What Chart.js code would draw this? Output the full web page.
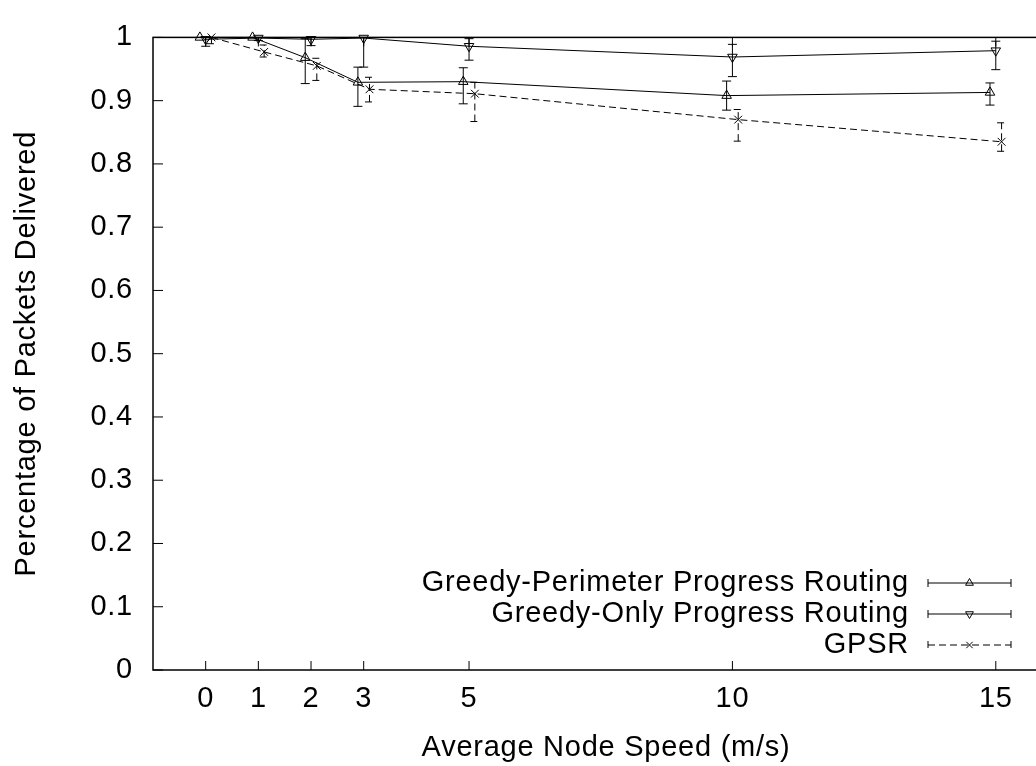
<!DOCTYPE html>
<html lang="en">
<head>
<meta charset="UTF-8">
<title>Packets Delivered vs Node Speed</title>
<script src="https://cdn.jsdelivr.net/npm/chart.js@4.4.1/dist/chart.umd.min.js"></script>
<style>
  html, body { margin: 0; padding: 0; background: #ffffff; overflow: hidden; }
  #chart { display: block; }
</style>
</head>
<body>
<canvas id="chart" width="1070" height="766"></canvas>
<script>
// x values (average node speed, m/s)
const speeds = [0, 1, 2, 3, 5, 10, 15];
const xTicks = [0, 1, 2, 3, 5, 10, 15];
const yTicks = [0, 0.1, 0.2, 0.3, 0.4, 0.5, 0.6, 0.7, 0.8, 0.9, 1];
const yTickLabels = ['0', '0.1', '0.2', '0.3', '0.4', '0.5', '0.6', '0.7', '0.8', '0.9', '1'];

const seriesNames = ['Greedy-Perimeter Progress Routing', 'Greedy-Only Progress Routing', 'GPSR'];

// Greedy-Perimeter Progress Routing
const perimMean = [1.0, 1.0, 0.968, 0.929, 0.930, 0.908, 0.913];
const perimLow  = [1.0, 1.0, 0.927, 0.891, 0.895, 0.885, 0.893];
const perimHigh = [1.0, 1.0, 0.998, 0.953, 0.952, 0.931, 0.928];

// Greedy-Only Progress Routing
const greedyMean = [0.997, 0.999, 0.997, 0.999, 0.986, 0.969, 0.979];
const greedyLow  = [0.986, 0.995, 0.987, 0.953, 0.964, 0.938, 0.949];
const greedyHigh = [1.0, 1.0, 1.0, 1.0, 0.998, 0.989, 0.994];

// GPSR
const gpsrMean = [1.0, 0.977, 0.955, 0.918, 0.911, 0.870, 0.835];
const gpsrLow  = [0.990, 0.969, 0.932, 0.898, 0.867, 0.836, 0.820];
const gpsrHigh = [1.0, 0.988, 0.967, 0.937, 0.929, 0.886, 0.865];

const FONT = "'Liberation Sans', Arial, Helvetica, sans-serif";
const FONT_SIZE = 29;

// gnuplot style: series shifted a little sideways so the bars don't overlap
function points(mean, shift) {
  return speeds.map((s, i) => ({ x: s + shift, y: mean[i] }));
}

const errorBars = {
  id: 'errorBars',
  afterDatasetsDraw(chart) {
    const ctx = chart.ctx;
    const xs = chart.scales.x, ys = chart.scales.y;
    chart.data.datasets.forEach(ds => {
      ctx.save();
      ctx.strokeStyle = '#000';
      ctx.lineWidth = 1;
      ctx.setLineDash(ds.borderDash || []);
      ds.data.forEach((p, i) => {
        const px = xs.getPixelForValue(p.x);
        const lo = ys.getPixelForValue(ds.errLow[i]);
        const hi = ys.getPixelForValue(ds.errHigh[i]);
        if (Math.abs(lo - hi) < 0.5) return;
        ctx.beginPath();
        ctx.moveTo(px, lo); ctx.lineTo(px, hi);
        ctx.moveTo(px - 4.5, lo); ctx.lineTo(px + 4.5, lo);
        ctx.moveTo(px - 4.5, hi); ctx.lineTo(px + 4.5, hi);
        ctx.stroke();
      });
      ctx.restore();
    });
  }
};

const frameAndKey = {
  id: 'frameAndKey',
  beforeDraw(chart) {
    chart.ctx.letterSpacing = '0.75px';
  },
  afterDraw(chart) {
    const ctx = chart.ctx;
    const { left, right, top, bottom } = chart.chartArea;
    const xs = chart.scales.x, ys = chart.scales.y;
    ctx.save();
    ctx.strokeStyle = '#000';
    ctx.lineWidth = 1.5;
    ctx.strokeRect(left, top, right - left, bottom - top);

    // ticks point inwards, mirrored on the opposite side
    ctx.lineWidth = 1;
    ctx.beginPath();
    xTicks.forEach(v => {
      const px = xs.getPixelForValue(v);
      ctx.moveTo(px, bottom); ctx.lineTo(px, bottom - 9);
      ctx.moveTo(px, top); ctx.lineTo(px, top + 9);
    });
    yTicks.forEach(v => {
      const py = ys.getPixelForValue(v);
      ctx.moveTo(left, py); ctx.lineTo(left + 10, py);
      ctx.moveTo(right, py); ctx.lineTo(right - 10, py);
    });
    ctx.stroke();

    // key, bottom right
    const rows = [583, 614, 645];
    chart.data.datasets.forEach((ds, i) => {
      const yy = rows[i];
      ctx.fillStyle = '#000';
      ctx.font = FONT_SIZE + 'px ' + FONT;
      ctx.textAlign = 'right';
      ctx.textBaseline = 'middle';
      ctx.fillText(ds.label, 909, yy);
      ctx.setLineDash(ds.borderDash || []);
      ctx.beginPath();
      ctx.moveTo(928, yy); ctx.lineTo(1011, yy);
      ctx.moveTo(928, yy - 4); ctx.lineTo(928, yy + 4);
      ctx.moveTo(1011, yy - 4); ctx.lineTo(1011, yy + 4);
      ctx.stroke();
      ctx.setLineDash([]);
      ctx.fillStyle = 'rgba(0,0,0,0)';
      Chart.helpers.drawPoint(ctx, {
        pointStyle: ds.pointStyle, radius: 4.5,
        rotation: ds.pointRotation || 0, borderWidth: 1
      }, 969.5, yy);
    });
    ctx.restore();
  }
};

function series(label, mean, low, high, shift, style, rotation, dash) {
  return {
    label: label,
    data: points(mean, shift),
    errLow: low,
    errHigh: high,
    borderColor: '#000',
    borderWidth: 1,
    borderDash: dash,
    pointStyle: style,
    pointRotation: rotation,
    pointRadius: 5.5,
    pointBorderColor: '#000',
    pointBackgroundColor: 'rgba(0,0,0,0)',
    pointBorderWidth: 1,
    tension: 0,
    clip: false
  };
}

new Chart(document.getElementById('chart').getContext('2d'), {
  type: 'line',
  data: {
    datasets: [
      series(seriesNames[0], perimMean, perimLow, perimHigh, -0.11, 'triangle', 0, []),
      series(seriesNames[1], greedyMean, greedyLow, greedyHigh, 0, 'triangle', 180, []),
      series(seriesNames[2], gpsrMean, gpsrLow, gpsrHigh, 0.11, 'crossRot', 0, [7, 4])
    ]
  },
  options: {
    responsive: false,
    animation: false,
    devicePixelRatio: 1,
    layout: { padding: { top: 26, left: 0, right: 11, bottom: 0 } },
    plugins: { legend: { display: false }, tooltip: { enabled: false } },
    scales: {
      x: {
        type: 'linear',
        min: -1,
        max: 16.2,
        grid: { display: false, drawTicks: false },
        border: { display: false },
        afterBuildTicks: s => { s.ticks = xTicks.map(v => ({ value: v })); },
        afterFit: s => { s.height = 96; },
        ticks: {
          color: '#000', font: { family: FONT, size: FONT_SIZE },
          padding: 12, maxRotation: 0, autoSkip: false,
          callback: v => String(v)
        },
        title: {
          display: true, text: 'Average Node Speed (m/s)', color: '#000',
          font: { family: FONT, size: FONT_SIZE }, padding: { top: 0, bottom: 1 }
        }
      },
      y: {
        min: 0,
        max: 1,
        grid: { display: false, drawTicks: false },
        border: { display: false },
        afterBuildTicks: s => { s.ticks = yTicks.map(v => ({ value: v })); },
        afterFit: s => { s.width = 153; },
        ticks: {
          color: '#000', font: { family: FONT, size: FONT_SIZE },
          padding: 20, autoSkip: false,
          callback: (v, i) => yTickLabels[i]
        },
        title: {
          display: true, text: 'Percentage of Packets Delivered', color: '#000',
          font: { family: FONT, size: FONT_SIZE }, padding: { top: 10, bottom: 0 }
        }
      }
    }
  },
  plugins: [errorBars, frameAndKey]
});
</script>
</body>
</html>
